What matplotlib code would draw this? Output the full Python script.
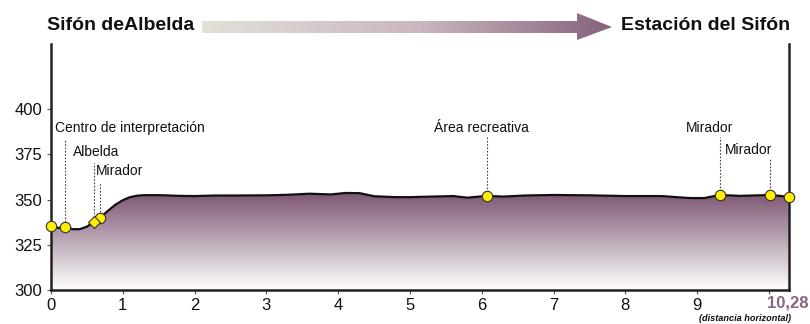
import matplotlib
matplotlib.use("Agg")
import matplotlib.pyplot as plt
import numpy as np
from matplotlib.patches import Polygon
from matplotlib.colors import LinearSegmentedColormap

plt.rcParams['font.family'] = ['Liberation Sans', 'DejaVu Sans']

# ---- data ----
dist = [0, 0.1, 0.2, 0.3, 0.4, 0.5, 0.6, 0.68, 0.8, 0.9, 1.0, 1.1, 1.2, 1.3, 1.5,
        1.8, 2.0, 2.3, 2.6, 3.0, 3.3, 3.6, 3.9, 4.1, 4.3, 4.5, 4.8, 5.0, 5.3, 5.6,
        5.8, 6.07, 6.3, 6.6, 7.0, 7.5, 8.0, 8.5, 8.9, 9.1, 9.32, 9.6, 10.02, 10.15, 10.28]
elev = [335.4, 334.3, 334.8, 333.6, 333.6, 335.0, 337.6, 339.8, 344.0, 347.2, 349.6,
        351.3, 352.1, 352.4, 352.4, 352.0, 351.9, 352.2, 352.2, 352.3, 352.6, 353.2,
        352.8, 353.6, 353.5, 351.8, 351.3, 351.3, 351.6, 351.9, 351.0, 352.0, 351.6,
        352.2, 352.5, 352.3, 351.9, 351.9, 350.8, 350.8, 352.5, 352.0, 352.5, 352.0, 351.4]

poi_x = [0, 0.2, 0.68, 6.07, 9.32, 10.02, 10.28]
poi_y = [335.4, 334.8, 339.8, 352.0, 352.5, 352.5, 351.4]
diamond_x = [0.6]
diamond_y = [337.6]

labels = ["Centro de interpretación", "Albelda", "Mirador", "Área recreativa", "Mirador", "Mirador"]
label_x = [0.2, 0.6, 0.68, 6.07, 9.32, 10.02]
label_y = [337.5, 340.5, 343.0, 354.0, 354.5, 354.5]
label_top = [383, 370, 359.5, 384.5, 384.5, 373]
text_x = [0.05, 0.3, 0.63, 6.0, 9.18, 9.72]
text_y = [389.5, 376.2, 365.7, 389.5, 389.5, 377.3]
text_ha = ["left", "left", "left", "center", "center", "center"]

xticks = list(range(0, 11))
xticklabels = [str(i) for i in range(0, 10)] + [""]
yticks = [300, 325, 350, 375, 400]
total = 10.28
start_name = "Sifón deAlbelda"
end_name = "Estación del Sifón"

purple = "#7b5571"

fig = plt.figure(figsize=(8.1, 3.24), dpi=100)
ax = fig.add_axes([51/810, 34/324, (789-51)/810, (290-44)/324])
ymin, ymax = 300, 300 + (290-44)/1.81
ax.set_xlim(0, total)
ax.set_ylim(ymin, ymax)

# gradient fill
cmap = LinearSegmentedColormap.from_list("g", ["#ffffff", purple])
grad = np.linspace(0, 1, 256).reshape(-1, 1)
top = max(elev)
im = ax.imshow(grad, extent=[0, total, ymin, top], origin="lower", aspect="auto",
               cmap=cmap, zorder=1)
verts = [(0, ymin)] + list(zip(dist, elev)) + [(total, ymin)]
poly = Polygon(verts, closed=True, facecolor="none", edgecolor="none")
ax.add_patch(poly)
im.set_clip_path(poly)

ax.plot(dist, elev, color="#111111", lw=1.6, zorder=3)

# dashed leader lines and labels
for lx, ly, lt, t, tx, ty, ha in zip(label_x, label_y, label_top, labels, text_x, text_y, text_ha):
    ax.plot([lx, lx], [ly, lt], color="#444444", lw=0.8, ls=(0, (1.5, 1.5)), zorder=2)
    ax.text(tx, ty, t, ha=ha, va="center", fontsize=10, color="#111111")

ax.plot(poi_x, poi_y, "o", ms=7.5, mfc="#ffee00", mec="#333333", mew=0.8,
        zorder=5, clip_on=False)
ax.plot(diamond_x, diamond_y, "D", ms=6, mfc="#ffee00", mec="#333333", mew=0.8,
        zorder=5, clip_on=False)

ax.spines["top"].set_visible(False)
for s in ["left", "right", "bottom"]:
    ax.spines[s].set_color("#222222")
    ax.spines[s].set_linewidth(1.8)

ax.set_xticks(xticks)
ax.set_xticklabels(xticklabels)
ax.set_yticks(yticks)
ax.tick_params(axis="both", labelsize=12, length=3, width=0.8, colors="#555555",
               labelcolor="#111111")
ax.tick_params(axis="x", pad=3)

fig.text(788/810, 1 - 303/324, "10,28", ha="center", va="center",
         fontsize=12, fontweight="bold", color="#8a6580")
fig.text(791/810, 1 - 318.5/324, "(distancia horizontal)", ha="right", va="center",
         fontsize=6.6, fontstyle="italic", fontweight="bold", color="#111111")

# title band
fig.text(47/810, 1 - 25/324, start_name, ha="left", va="center", fontsize=14,
         fontweight="bold", color="#111111")
fig.text(790/810, 1 - 25/324, end_name, ha="right", va="center", fontsize=14,
         fontweight="bold", color="#111111")

tax = fig.add_axes([0, 0, 1, 1], zorder=-1)
tax.set_xlim(0, 810)
tax.set_ylim(324, 0)
tax.axis("off")
acmap = LinearSegmentedColormap.from_list("a", ["#e2e1d8", "#c9b6c0", purple])
hgrad = np.linspace(0, 1, 256).reshape(1, -1)
aim = tax.imshow(hgrad, extent=[202, 612, 40, 13], aspect="auto", cmap=acmap,
                 vmin=0, vmax=(612-202)/(577-202) * 0.98)
arrow = Polygon([(202, 21), (577, 21), (577, 13), (612, 27), (577, 40), (577, 33), (202, 33)],
                closed=True, facecolor="none", edgecolor="none")
tax.add_patch(arrow)
aim.set_clip_path(arrow)

fig.savefig("out.png", dpi=100)
